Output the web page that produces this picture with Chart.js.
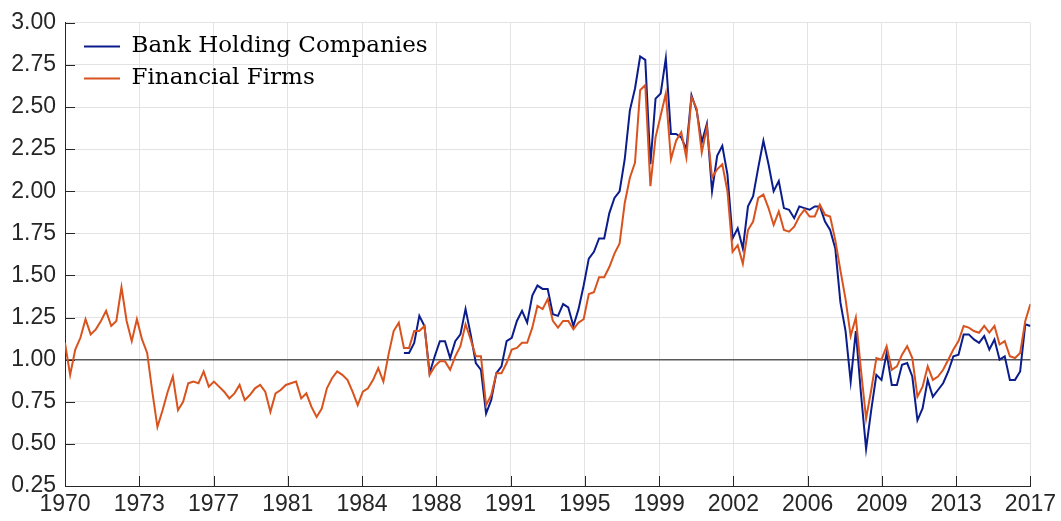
<!DOCTYPE html>
<html>
<head>
<meta charset="utf-8">
<script src="https://cdn.jsdelivr.net/npm/chart.js@4/dist/chart.umd.min.js"></script>
<style>
  html, body { margin: 0; padding: 0; background: #fff; }
</style>
</head>
<body>
<canvas id="chart" width="1061" height="521"></canvas>
<script>
// quarterly series, first value of each list is at the year given
const ffStart = 1970
const bhcStart = 1986.5

const xTickLabels = ['1970', '1973', '1977', '1981', '1984', '1988', '1991', '1995', '1999', '2002', '2006', '2009', '2013', '2017']

const financialFirms = [
  1.10, 0.91, 1.06, 1.13, 1.24, 1.15, 1.18, 1.23, 1.29, 1.20, 1.23, 1.43,
  1.23, 1.11, 1.24, 1.12, 1.04, 0.81, 0.60, 0.70, 0.81, 0.90, 0.70, 0.75,
  0.86, 0.87, 0.86, 0.93, 0.84, 0.87, 0.84, 0.81, 0.77, 0.80, 0.85, 0.76,
  0.79, 0.83, 0.85, 0.81, 0.69, 0.80, 0.82, 0.85, 0.86, 0.87, 0.77, 0.80,
  0.72, 0.66, 0.71, 0.83, 0.89, 0.93, 0.91, 0.88, 0.81, 0.73, 0.81, 0.83,
  0.88, 0.95, 0.87, 1.03, 1.17, 1.22, 1.07, 1.07, 1.17, 1.17, 1.20, 0.91,
  0.96, 0.99, 0.99, 0.94, 1.02, 1.08, 1.21, 1.12, 1.02, 1.02, 0.73, 0.79,
  0.92, 0.92, 0.98, 1.06, 1.07, 1.10, 1.10, 1.19, 1.32, 1.30, 1.36, 1.23,
  1.19, 1.23, 1.23, 1.18, 1.22, 1.24, 1.39, 1.40, 1.49, 1.49, 1.55, 1.63,
  1.69, 1.93, 2.08, 2.17, 2.60, 2.63, 2.03, 2.32, 2.45, 2.58, 2.19, 2.30,
  2.35, 2.20, 2.56, 2.49, 2.23, 2.38, 2.08, 2.13, 2.16, 2.00, 1.64, 1.68,
  1.57, 1.77, 1.82, 1.96, 1.98, 1.90, 1.80, 1.88, 1.77, 1.76, 1.79, 1.85,
  1.89, 1.85, 1.85, 1.92, 1.86, 1.85, 1.71, 1.53, 1.36, 1.14, 1.25, 0.94,
  0.65, 0.82, 1.01, 1.00, 1.08, 0.94, 0.96, 1.03, 1.08, 1.01, 0.78, 0.84,
  0.96, 0.88, 0.90, 0.94, 1.00, 1.06, 1.11, 1.20, 1.19, 1.17, 1.16, 1.20,
  1.16, 1.20, 1.09, 1.11, 1.02, 1.01, 1.04, 1.23, 1.33
]

const bankHoldingCompanies = [
  1.04, 1.04, 1.10, 1.26, 1.20, 0.92, 1.02, 1.11, 1.11, 1.01,
  1.11, 1.15, 1.30, 1.15, 0.98, 0.94, 0.68, 0.76, 0.92, 0.96, 1.11, 1.13,
  1.23, 1.29, 1.22, 1.38, 1.44, 1.42, 1.42, 1.27, 1.26, 1.33, 1.31, 1.20,
  1.30, 1.44, 1.60, 1.64, 1.72, 1.72, 1.87, 1.96, 2.00, 2.19, 2.48, 2.61,
  2.80, 2.78, 2.16, 2.55, 2.58, 2.79, 2.34, 2.34, 2.32, 2.25, 2.57, 2.48,
  2.29, 2.40, 2.00, 2.21, 2.27, 2.10, 1.72, 1.78, 1.66, 1.91, 1.97, 2.14,
  2.30, 2.16, 2.00, 2.06, 1.90, 1.89, 1.84, 1.91, 1.90, 1.89, 1.91, 1.91,
  1.82, 1.77, 1.66, 1.34, 1.17, 0.87, 1.17, 0.80, 0.47, 0.70, 0.91, 0.88,
  1.04, 0.85, 0.85, 0.97, 0.98, 0.90, 0.64, 0.71, 0.88, 0.78, 0.82, 0.86,
  0.93, 1.02, 1.03, 1.15, 1.15, 1.12, 1.10, 1.14, 1.06, 1.12, 1.00, 1.02,
  0.88, 0.88, 0.93, 1.21, 1.20
]

const toPoints = (start, values) => values.map((v, i) => ({ x: start + i / 4, y: v }))

const tickFont = { family: "'Liberation Sans', Arial, sans-serif", size: 23 }
const gridColor = '#e3e3e3'
const axisColor = '#262626'

// MATLAB style tick marks pointing into the plot
const innerTicks = {
  id: 'innerTicks',
  beforeDatasetsDraw (chart) {
    const { ctx, chartArea: a, scales: { x, y } } = chart
    ctx.save()
    ctx.strokeStyle = axisColor
    ctx.lineWidth = 1
    ctx.beginPath()
    x.ticks.forEach(t => {
      const px = Math.round(x.getPixelForValue(t.value)) + 0.5
      ctx.moveTo(px, a.bottom)
      ctx.lineTo(px, a.bottom - 10)
    })
    y.ticks.forEach(t => {
      const py = Math.round(y.getPixelForValue(t.value)) + 0.5
      ctx.moveTo(a.left, py)
      ctx.lineTo(a.left + 10, py)
    })
    ctx.stroke()
    ctx.restore()
  }
}

// nudge the in-plot legend away from the axes
const legendNudge = {
  id: 'legendNudge',
  afterLayout (chart) {
    const l = chart.legend
    l.left += 10; l.right += 10
    l.top += 26; l.bottom += 26
  }
}

new Chart(document.getElementById('chart'), {
  type: 'line',
  data: {
    datasets: [
      {
        label: 'Bank Holding Companies',
        data: toPoints(bhcStart, bankHoldingCompanies),
        borderColor: '#0b1d8c',
        backgroundColor: '#0b1d8c',
        borderWidth: 2,
        order: 1
      },
      {
        label: 'Financial Firms',
        data: toPoints(ffStart, financialFirms),
        borderColor: '#d9531e',
        backgroundColor: '#d9531e',
        borderWidth: 2,
        order: 0
      }
    ]
  },
  options: {
    responsive: false,
    animation: false,
    devicePixelRatio: 1,
    layout: { padding: { left: 0, right: 29, top: 17, bottom: 0 } },
    elements: {
      point: { radius: 0 },
      line: { tension: 0 }
    },
    plugins: {
      tooltip: { enabled: false },
      legend: {
        position: 'chartArea',
        align: 'start',
        labels: {
          boxWidth: 36,
          boxHeight: 2,
          padding: 9,
          color: '#000',
          font: { family: "'DejaVu Serif', serif", size: 23 },
          sort: (a, b) => a.datasetIndex - b.datasetIndex,
          generateLabels: chart => Chart.defaults.plugins.legend.labels.generateLabels(chart)
            .map(item => Object.assign(item, { fillStyle: item.strokeStyle, lineWidth: 0 }))
        }
      }
    },
    scales: {
      x: {
        type: 'linear',
        min: 1970,
        max: 2017,
        afterBuildTicks: scale => {
          const n = xTickLabels.length - 1
          scale.ticks = xTickLabels.map((_, k) => ({ value: 1970 + k * (2017 - 1970) / n }))
        },
        afterFit: scale => { scale.height = 35 },
        ticks: {
          autoSkip: false,
          maxRotation: 0,
          padding: 5,
          color: axisColor,
          font: tickFont,
          callback: (value, index) => xTickLabels[index]
        },
        grid: { color: gridColor, drawTicks: false },
        border: { color: axisColor, width: 1 }
      },
      y: {
        min: 0.25,
        max: 3,
        afterFit: scale => { scale.width = 65 },
        ticks: {
          stepSize: 0.25,
          padding: 9,
          color: axisColor,
          font: tickFont,
          callback: v => v.toFixed(2)
        },
        grid: {
          drawTicks: false,
          color: c => c.tick && Math.abs(c.tick.value - 1) < 1e-9 ? '#5a5a5a' : gridColor,
          lineWidth: c => c.tick && Math.abs(c.tick.value - 1) < 1e-9 ? 1.5 : 1
        },
        border: { color: axisColor, width: 1 }
      }
    }
  },
  plugins: [innerTicks, legendNudge]
})
</script>
</body>
</html>
